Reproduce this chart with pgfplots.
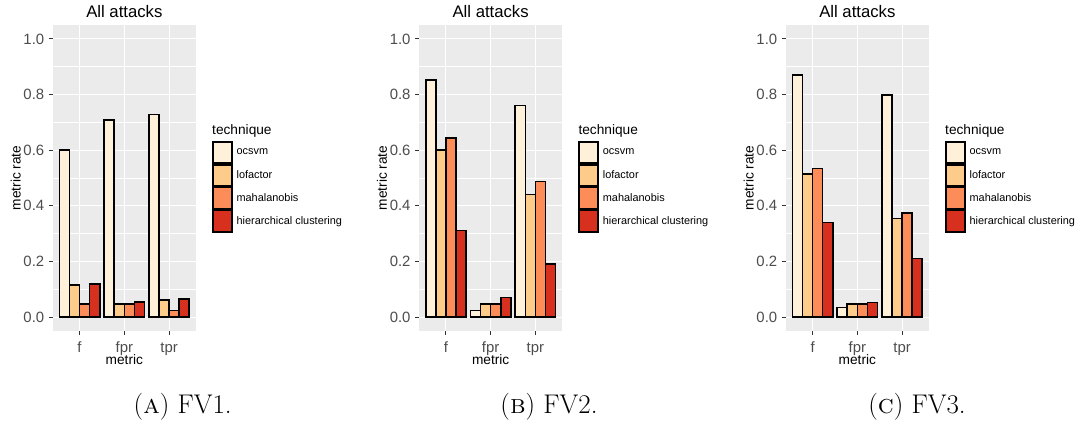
\documentclass[border=0pt]{standalone}
\usepackage{pgfplots}
\pgfplotsset{compat=1.18}
\usepackage{fontspec}
\newfontfamily\ggf{Liberation Sans}
\definecolor{ggbg}{HTML}{EBEBEB}
\definecolor{gg30}{HTML}{4D4D4D}
\definecolor{gg20}{HTML}{333333}
\definecolor{oc}{HTML}{FEF0D9}
\definecolor{lo}{HTML}{FDCC8A}
\definecolor{ma}{HTML}{FC8D59}
\definecolor{hc}{HTML}{D7301F}
\pgfplotsset{
 ggpanel/.style={
  scale only axis, width=143.3bp, height=306bp, anchor=south west,
  xmin=0.4, xmax=3.6, ymin=-0.05, ymax=1.05,
  axis background/.style={fill=ggbg},
  axis line style={draw=none},
  xtick={1,2,3}, xticklabels={f,fpr,tpr},
  ytick={0,0.2,0.4,0.6,0.8,1.0}, minor ytick={0.1,0.3,0.5,0.7,0.9},
  xtick pos=bottom, ytick pos=left,
  xmajorgrids, ymajorgrids, yminorgrids,
  major grid style={draw=white, line width=1.1bp},
  minor grid style={draw=white, line width=0.55bp},
  tick align=outside, major tick length=3.6bp, minor tick length=0pt,
  tick style={draw=gg20, line width=0.9bp},
  /pgf/number format/assume math mode=true,
  ticklabel style={font=\ggf\fontsize{14.9bp}{17bp}\selectfont, text=gg30, inner sep=0pt},
  yticklabel style={anchor=east, xshift=-4.7bp, /pgf/number format/fixed, /pgf/number format/fixed zerofill, /pgf/number format/precision=1},
  xticklabel style={anchor=base, yshift=-17.7bp},
  xlabel={metric}, ylabel={metric rate},
  label style={font=\ggf\fontsize{13.7bp}{16bp}\selectfont, text=black, inner sep=0pt},
  xlabel style={at={(axis description cs:0.5,-0.1111)}, anchor=base},
  ylabel style={at={(axis description cs:-0.2247,0.5)}, anchor=base, rotate=0},
  title={All attacks},
  every axis title/.style={at={(axis description cs:0.5,1.0252)}, anchor=base, font=\ggf\fontsize{16.7bp}{20bp}\selectfont, inner sep=0pt},
  legend style={at={(axis description cs:1.1117,0.6209)}, anchor=north west, draw=none, fill=none,
    inner sep=0pt, outer sep=0pt, row sep=0pt, column sep=3.9bp,
    font=\ggf\fontsize{10.9bp}{13bp}\selectfont, nodes={inner sep=0pt, outer sep=0pt}},
  legend cell align=left,
  extra description/.code={\node[anchor=base west, inner sep=0pt, font=\ggf\fontsize{13.7bp}{16bp}\selectfont] at (1.1117,0.6415) {technique};},
 },
 ggbar/.style={ybar, bar width=0.225, draw=black, line width=1.6bp,
   legend image code/.code={\draw[##1] (0.8bp,-10.65bp) rectangle (19.9bp,10.65bp);}},
}
\begin{document}
\begin{tikzpicture}
\useasboundingbox (0,0) rectangle (1083bp,426bp);
% FV1
\begin{axis}[ggpanel, at={(52.7bp,95bp)}]
\addplot[ggbar, fill=oc, bar shift=-0.3375] coordinates {(1,0.600) (2,0.708) (3,0.728)};
\addplot[ggbar, fill=lo, bar shift=-0.1125] coordinates {(1,0.115) (2,0.047) (3,0.061)};
\addplot[ggbar, fill=ma, bar shift=0.1125] coordinates {(1,0.046) (2,0.047) (3,0.023)};
\addplot[ggbar, fill=hc, bar shift=0.3375] coordinates {(1,0.120) (2,0.055) (3,0.065)};
\legend{ocsvm,lofactor,mahalanobis,hierarchical clustering}
\end{axis}
% FV2
\begin{axis}[ggpanel, at={(419bp,95bp)}]
\addplot[ggbar, fill=oc, bar shift=-0.3375] coordinates {(1,0.853) (2,0.023) (3,0.761)};
\addplot[ggbar, fill=lo, bar shift=-0.1125] coordinates {(1,0.600) (2,0.047) (3,0.440)};
\addplot[ggbar, fill=ma, bar shift=0.1125] coordinates {(1,0.644) (2,0.047) (3,0.487)};
\addplot[ggbar, fill=hc, bar shift=0.3375] coordinates {(1,0.311) (2,0.071) (3,0.190)};
\legend{ocsvm,lofactor,mahalanobis,hierarchical clustering}
\end{axis}
% FV3
\begin{axis}[ggpanel, at={(785.7bp,95bp)}]
\addplot[ggbar, fill=oc, bar shift=-0.3375] coordinates {(1,0.871) (2,0.034) (3,0.798)};
\addplot[ggbar, fill=lo, bar shift=-0.1125] coordinates {(1,0.514) (2,0.047) (3,0.355)};
\addplot[ggbar, fill=ma, bar shift=0.1125] coordinates {(1,0.534) (2,0.047) (3,0.374)};
\addplot[ggbar, fill=hc, bar shift=0.3375] coordinates {(1,0.340) (2,0.053) (3,0.210)};
\legend{ocsvm,lofactor,mahalanobis,hierarchical clustering}
\end{axis}
\node[anchor=base, inner sep=0pt, font=\fontsize{27bp}{31bp}\selectfont] at (182.7bp,12.7bp) {(\textsc{a}) FV1.};
\node[anchor=base, inner sep=0pt, font=\fontsize{27bp}{31bp}\selectfont] at (549bp,12.7bp) {(\textsc{b}) FV2.};
\node[anchor=base, inner sep=0pt, font=\fontsize{27bp}{31bp}\selectfont] at (917bp,12.7bp) {(\textsc{c}) FV3.};
\end{tikzpicture}
\end{document}
